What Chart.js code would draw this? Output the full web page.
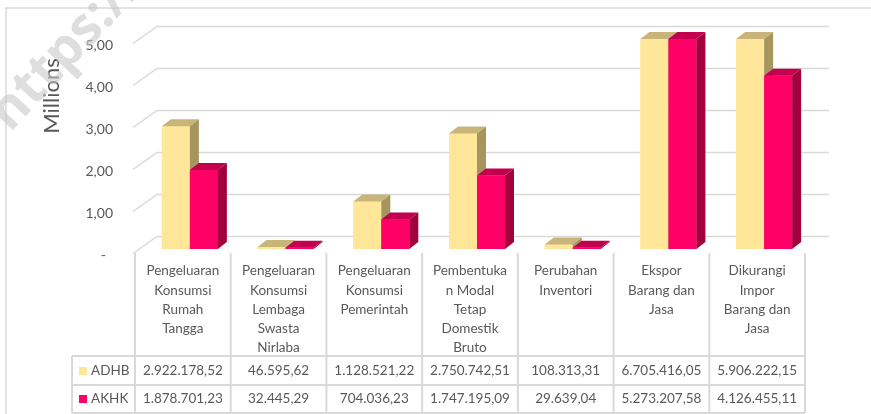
<!DOCTYPE html>
<html>
<head>
<meta charset="utf-8">
<script src="https://cdn.jsdelivr.net/npm/chart.js@4.4.1/dist/chart.umd.min.js"></script>
<style>
  body { margin: 0; background: #fff; }
  canvas { display: block; }
</style>
</head>
<body>
<canvas id="pdrbChart" width="871" height="414"></canvas>
<script>
// Kategori (label dipecah per baris seperti di tabel)
const categories = [
    ['Pengeluaran', 'Konsumsi', 'Rumah', 'Tangga'],
    ['Pengeluaran', 'Konsumsi', 'Lembaga', 'Swasta', 'Nirlaba'],
    ['Pengeluaran', 'Konsumsi', 'Pemerintah'],
    ['Pembentuka', 'n Modal', 'Tetap', 'Domestik', 'Bruto'],
    ['Perubahan', 'Inventori'],
    ['Ekspor', 'Barang dan', 'Jasa'],
    ['Dikurangi', 'Impor', 'Barang dan', 'Jasa']
];
const adhbValues = [2922178.52, 46595.62, 1128521.22, 2750742.51, 108313.31, 6705416.05, 5906222.15];
const akhkValues = [1878701.23, 32445.29, 704036.23, 1747195.09, 29639.04, 5273207.58, 4126455.11];
const yTicks = [0, 1000000, 2000000, 3000000, 4000000, 5000000];

const FONT = 'Lato, "Noto Sans", sans-serif';
const TEXT_COLOR = '#595959';
const GRID_COLOR = '#D9D9D9';

const series = [
    { label: 'ADHB', data: adhbValues, front: '#FFE699', top: '#C9B47A', side: '#A6955F' },
    { label: 'AKHK', data: akhkValues, front: '#FF0066', top: '#C2004F', side: '#A3003E' }
];

// format angka gaya Indonesia: 2.922.178,52
function formatId(v) {
    const parts = v.toFixed(2).split('.');
    return parts[0].replace(/\B(?=(\d{3})+(?!\d))/g, '.') + ',' + parts[1];
}

function formatTick(v) {
    if (v === 0) return '-';
    return (v / 1000000).toFixed(2).replace('.', ',');
}

const DX = 9, DY = -7;       // kedalaman balok 3D
const TABLE_SHIFT = 7;       // tabel sedikit ke kiri dari balok

// Gambar dinding belakang (gridline), sumbu, judul dan tabel
const backgroundPlugin = {
    id: 'background',
    beforeDatasetsDraw(chart) {
        const ctx = chart.ctx;
        const area = chart.chartArea;
        const y = chart.scales.y;
        const x = chart.scales.x;

        ctx.save();
        // bingkai luar
        ctx.strokeStyle = GRID_COLOR;
        ctx.lineWidth = 1.5;
        ctx.beginPath();
        ctx.moveTo(6, 414);
        ctx.lineTo(6, 8);
        ctx.lineTo(871, 8);
        ctx.stroke();

        // gridlines
        ctx.lineWidth = 1.5;
        yTicks.forEach(v => {
            const py = y.getPixelForValue(v);
            ctx.beginPath();
            ctx.moveTo(area.left - 9, py + 4.5);
            ctx.lineTo(area.left + 15, py - 12.5);
            ctx.lineTo(area.right + 17, py - 12.5);
            ctx.stroke();

            ctx.fillStyle = TEXT_COLOR;
            ctx.font = '14px ' + FONT;
            ctx.textAlign = 'right';
            ctx.textBaseline = 'middle';
            ctx.fillText(formatTick(v), v === 0 ? area.left - 36 : area.left - 29, py + 6.5);
        });

        // judul sumbu
        ctx.save();
        ctx.translate(52, 96);
        ctx.rotate(-Math.PI / 2);
        ctx.font = '22px ' + FONT;
        ctx.textAlign = 'center';
        ctx.textBaseline = 'middle';
        ctx.fillStyle = TEXT_COLOR;
        ctx.fillText('Millions', 0, 0);
        ctx.restore();

        // tabel data
        const catW = (area.right - area.left) / categories.length;
        const tableLeft = 72;
        const firstCol = x.getPixelForValue(0) - catW / 2 - TABLE_SHIFT;
        const tableRight = firstCol + catW * categories.length;
        const rowTops = [356, 385, 413];

        ctx.strokeStyle = GRID_COLOR;
        ctx.lineWidth = 2;
        rowTops.forEach(ry => {
            ctx.beginPath();
            ctx.moveTo(tableLeft, ry);
            ctx.lineTo(tableRight, ry);
            ctx.stroke();
        });
        for (let i = 0; i <= categories.length; i++) {
            const cx = firstCol + catW * i;
            ctx.beginPath();
            ctx.moveTo(cx, 253);
            ctx.lineTo(cx, 413);
            ctx.stroke();
        }
        ctx.beginPath();
        ctx.moveTo(tableLeft, 356);
        ctx.lineTo(tableLeft, 413);
        ctx.stroke();

        ctx.fillStyle = TEXT_COLOR;
        ctx.font = '13.5px ' + FONT;
        ctx.textAlign = 'center';
        ctx.textBaseline = 'middle';
        categories.forEach((lines, i) => {
            const cx = x.getPixelForValue(i) - TABLE_SHIFT;
            lines.forEach((line, k) => {
                ctx.fillText(line, cx, 271 + k * 19.2);
            });
            ctx.fillText(formatId(adhbValues[i]), cx, 371);
            ctx.fillText(formatId(akhkValues[i]), cx, 399);
        });

        // legenda di dalam tabel
        series.forEach((s, j) => {
            const ly = j === 0 ? 371 : 399;
            ctx.fillStyle = s.front;
            ctx.fillRect(79, ly - 4, 8, 8);
            ctx.fillStyle = TEXT_COLOR;
            ctx.textAlign = 'left';
            ctx.fillText(s.label, 91, ly);
        });
        ctx.restore();
    },

    // balok 3D: depan, atas, samping - urut per kategori
    afterDatasetsDraw(chart) {
        const ctx = chart.ctx;
        const area = chart.chartArea;
        ctx.save();
        for (let i = 0; i < categories.length; i++) {
            series.forEach((s, d) => {
                const el = chart.getDatasetMeta(d).data[i];
                const x0 = el.x - el.width / 2;
                const x1 = el.x + el.width / 2;
                const top = Math.max(el.y, area.top);
                const base = el.base;

                ctx.fillStyle = s.front;
                ctx.fillRect(x0, top, x1 - x0, base - top);

                ctx.fillStyle = s.top;
                ctx.beginPath();
                ctx.moveTo(x0, top);
                ctx.lineTo(x1, top);
                ctx.lineTo(x1 + DX, top + DY);
                ctx.lineTo(x0 + DX, top + DY);
                ctx.closePath();
                ctx.fill();

                ctx.fillStyle = s.side;
                ctx.beginPath();
                ctx.moveTo(x1, top);
                ctx.lineTo(x1 + DX, top + DY);
                ctx.lineTo(x1 + DX, base + DY);
                ctx.lineTo(x1, base);
                ctx.closePath();
                ctx.fill();
            });
        }
        ctx.restore();
    },

    // watermark
    afterDraw(chart) {
        const ctx = chart.ctx;
        ctx.save();
        ctx.translate(10, 133);
        ctx.rotate(-47 * Math.PI / 180);
        ctx.font = 'bold 53px "Open Sans", sans-serif';
        ctx.fillStyle = 'rgba(200, 200, 200, 0.6)';
        ctx.textAlign = 'left';
        ctx.textBaseline = 'alphabetic';
        ctx.fillText('https://', 0, 0);
        ctx.restore();
    }
};

new Chart(document.getElementById('pdrbChart').getContext('2d'), {
    type: 'bar',
    data: {
        labels: categories,
        datasets: series.map(s => ({
            label: s.label,
            data: s.data,
            backgroundColor: s.front,
            borderWidth: 0,
            categoryPercentage: 0.585,
            barPercentage: 1.0
        }))
    },
    options: {
        responsive: false,
        animation: false,
        devicePixelRatio: 1,
        layout: {
            padding: { left: 142, right: 59, top: 39, bottom: 165 }
        },
        plugins: {
            legend: { display: false },
            tooltip: { enabled: false }
        },
        scales: {
            x: { display: false },
            y: { display: false, min: 0, max: 5000000 }
        }
    },
    plugins: [backgroundPlugin]
});
</script>
</body>
</html>
